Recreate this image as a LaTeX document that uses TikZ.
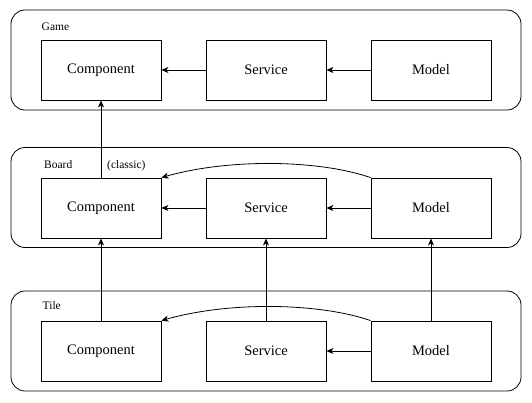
\documentclass[tikz,border=0pt]{standalone}
\usepackage{fontspec}
\setmainfont{Liberation Serif}
\usetikzlibrary{arrows.meta}
\begin{document}
\begin{tikzpicture}[x=1pt,y=-1pt,
  cont/.style={draw,rounded corners=14pt,line width=0.8pt,minimum width=510pt,minimum height=100pt,inner sep=0pt},
  box/.style={draw,line width=0.8pt,minimum width=120pt,minimum height=60pt,inner sep=0pt,font=\fontsize{14.5}{17}\selectfont},
  lbl/.style={font=\fontsize{11.5}{13}\selectfont,inner sep=0pt,anchor=base west},
  arr/.style={-{Stealth[length=7pt,width=6pt,inset=2pt]},line width=0.8pt}]
\useasboundingbox (0,0) rectangle (532,402);
% containers
\node[cont] (game) at (266,60) {};
\node[cont] (board) at (266,197.5) {};
\node[cont] (tile) at (266,341) {};
\node[lbl] (gl) at (41.5,30) {Game};
\node[lbl] (bl) at (44,168) {Board};
\node[lbl] (cl) at (107,168) {(classic)};
\node[lbl] (tl) at (42.5,309) {Tile};
% Game
\node[box] (gc) at (101,70) {Component};
\node[box] (gs) at (266,70) {Service};
\node[box] (gm) at (431,70) {Model};
% Board
\node[box] (bc) at (101,208) {Component};
\node[box] (bs) at (266,208) {Service};
\node[box] (bm) at (431,208) {Model};
% Tile
\node[box] (tc) at (101,351) {Component};
\node[box] (ts) at (266,351) {Service};
\node[box] (tm) at (431,351) {Model};
% arrows
\draw[arr] (gm) -- (gs);
\draw[arr] (gs) -- (gc);
\draw[arr] (bm) -- (bs);
\draw[arr] (bs) -- (bc);
\draw[arr] (tm) -- (ts);
\draw[arr] (bm.north west) .. controls (320,160) and (230,158) .. (bc.north east);
\draw[arr] (tm.north west) .. controls (320,303) and (230,301) .. (tc.north east);
\draw[arr] (bc) -- (gc);
\draw[arr] (tc) -- (bc);
\draw[arr] (ts) -- (bs);
\draw[arr] (tm) -- (bm);
\end{tikzpicture}
\end{document}
